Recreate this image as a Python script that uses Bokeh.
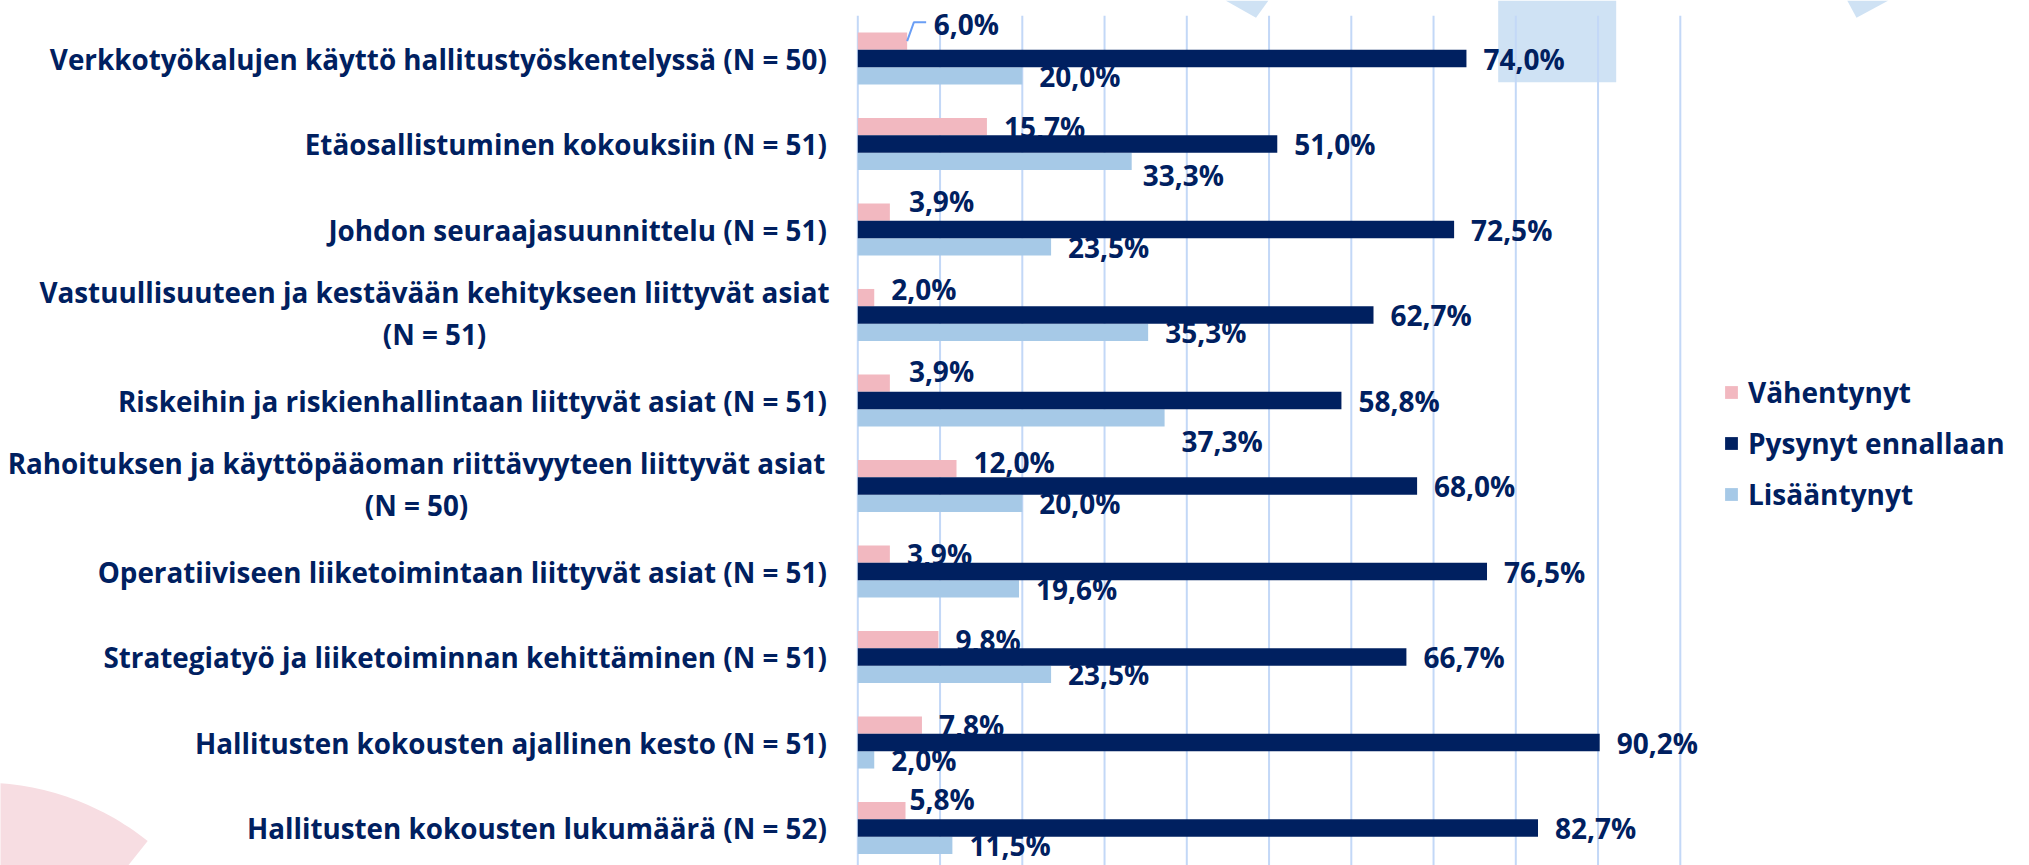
import numpy as np
from bokeh.plotting import figure
from bokeh.models import (Range1d, ColumnDataSource, Legend, LegendItem, PolyAnnotation)
from bokeh.transform import dodge
from bokeh.core.properties import value
from bokeh.embed import file_html
from bokeh.resources import INLINE

# ---------------- data ----------------
categories = [
    "Verkkotyökalujen käyttö hallitustyöskentelyssä (N = 50)",
    "Etäosallistuminen kokouksiin (N = 51)",
    "Johdon seuraajasuunnittelu (N = 51)",
    "Vastuullisuuteen ja kestävään kehitykseen liittyvät asiat\n(N = 51)",
    "Riskeihin ja riskienhallintaan liittyvät asiat (N = 51)",
    "Rahoituksen ja käyttöpääoman riittävyyteen liittyvät asiat\n(N = 50)",
    "Operatiiviseen liiketoimintaan liittyvät asiat (N = 51)",
    "Strategiatyö ja liiketoiminnan kehittäminen (N = 51)",
    "Hallitusten kokousten ajallinen kesto (N = 51)",
    "Hallitusten kokousten lukumäärä (N = 52)",
]
vahentynyt = [6.0, 15.7, 3.9, 2.0, 3.9, 12.0, 3.9, 9.8, 7.8, 5.8]
pysynyt = [74.0, 51.0, 72.5, 62.7, 58.8, 68.0, 76.5, 66.7, 90.2, 82.7]
lisaantynyt = [20.0, 33.3, 23.5, 35.3, 37.3, 20.0, 19.6, 23.5, 2.0, 11.5]
series_names = ["Vähentynyt", "Pysynyt ennallaan", "Lisääntynyt"]
x_ticks = list(range(0, 101, 10))

# ---------------- style ----------------
PINK = "#F2B8C0"
NAVY = "#002060"
LIGHT = "#A6C9E7"
GRID = "#C3D8F7"
TEXT = "#002060"
FONT = "Open Sans"
FS = "28px"
CAT_FS = "27.8px"
BAR = 0.203

# data-label nudges in pixels: (series index, row) -> (dx, dy)
nudges = {
    (0, 0): (9.5, -17), (2, 1): (-6, 14), (0, 2): (2, -11.5), (0, 3): (0, -9),
    (0, 4): (2, -11.7), (2, 4): (0, 23.5), (0, 5): (0, -7), (0, 9): (-13, -12),
}
LABEL_GAP = 17
CAT_GAP = 31
# centre (canvas px) of the wrapped, centred category labels
wrapped_center_px = {3: 434, 5: 416}

W, H = 2029, 865
ZERO_PX = 857.3      # canvas x of 0 %
PX_PER_PCT = 8.225   # pixels per percentage point
ROW0_PX = 58.0       # canvas y of first category centre
PX_PER_ROW = 85.5
GRID_TOP = -0.5      # grid starts half a row above the first category

x_start = -ZERO_PX / PX_PER_PCT
x_end = (W - ZERO_PX) / PX_PER_PCT
y_top = -ROW0_PX / PX_PER_ROW
y_bottom = (H - ROW0_PX) / PX_PER_ROW

p = figure(width=W, height=H, output_backend="svg", toolbar_location=None,
           x_range=Range1d(x_start, x_end), y_range=Range1d(y_bottom, y_top),
           x_axis_location=None, y_axis_location=None,
           min_border_left=0, min_border_right=0, min_border_top=0, min_border_bottom=0)
p.outline_line_color = None
p.background_fill_color = "white"
p.border_fill_color = "white"
p.xgrid.visible = False
p.ygrid.visible = False

# background decorations (canvas pixels)
DECO_BLUE = "#CFE2F4"
for xs, ys in [([1497.7, 1615.7, 1615.7, 1497.7], [0, 0, 81.7, 81.7]),
               ([1225, 1268, 1255.5], [0, 0, 17.3]),
               ([1846.7, 1888, 1856], [0, 0, 17.3])]:
    p.add_layout(PolyAnnotation(xs=xs, ys=ys, xs_units="canvas", ys_units="canvas",
                                fill_color=DECO_BLUE, fill_alpha=1, line_color=None,
                                level="image"))
ang = np.radians(np.linspace(-100, -51.4, 40))
wx = [-20.0] + [float(v) for v in (-20 + 268 * np.cos(ang))]
wy = [1050.0] + [float(v) for v in (1050 + 268 * np.sin(ang))]
p.add_layout(PolyAnnotation(xs=wx, ys=wy, xs_units="canvas", ys_units="canvas",
                            fill_color="#F7DDE2", fill_alpha=1, line_color=None, level="image"))

# vertical gridlines (0 % line doubles as the axis line)
p.segment(x0=x_ticks, x1=x_ticks, y0=[GRID_TOP] * len(x_ticks), y1=[y_bottom] * len(x_ticks),
          line_color=GRID, line_width=2, level="underlay")

# category labels
rows = list(range(len(categories)))
single = [r for r in rows if "\n" not in categories[r]]
wrapped = [r for r in rows if "\n" in categories[r]]
cat_common = dict(text_baseline="middle", text_font=value(FONT), text_font_style="bold",
                  text_font_size=CAT_FS, text_color=TEXT, text_line_height=1.1)
p.text(x=[0] * len(single), y=single, text=[categories[r] for r in single],
       x_offset=-CAT_GAP, text_align="right", **cat_common)
p.text(x=[0] * len(wrapped), y=wrapped, text=[categories[r] for r in wrapped],
       x_offset=[wrapped_center_px[r] - ZERO_PX for r in wrapped], y_offset=-2,
       text_align="center", **cat_common)


def fmt(v):
    return f"{v:.1f}".replace(".", ",") + "%"


series = [vahentynyt, pysynyt, lisaantynyt]
sources = []
for si, vals in enumerate(series):
    dx = [LABEL_GAP + nudges.get((si, r), (0, 0))[0] for r in rows]
    dy = [nudges.get((si, r), (0, 0))[1] for r in rows]
    sources.append(ColumnDataSource(dict(y=rows, v=vals, t=[fmt(v) for v in vals], dx=dx, dy=dy)))

offsets = [-BAR, 0.0, BAR]
colors = [PINK, NAVY, LIGHT]


def bars(si):
    return p.hbar(y=dodge("y", offsets[si], range=p.y_range), left=0, right="v", height=BAR,
                  source=sources[si], fill_color=colors[si], line_color=None)


def labels(si):
    p.text(x="v", y=dodge("y", offsets[si], range=p.y_range), text="t", source=sources[si],
           x_offset="dx", y_offset="dy", text_align="left", text_baseline="middle",
           text_font=value(FONT), text_font_style="bold", text_font_size=FS, text_color=TEXT)


r_pink = bars(0)
r_light = bars(2)
labels(0)
labels(2)

# leader line for the first "Vähentynyt" label
v0 = vahentynyt[0]
y0 = 0 - BAR
p.line(x=[v0, v0 + 6.7 / PX_PER_PCT, v0 + 19 / PX_PER_PCT],
       y=[y0, y0 - 18.8 / PX_PER_ROW, y0 - 18.8 / PX_PER_ROW],
       line_color="#6A9EF5", line_width=2)

r_navy = bars(1)
labels(1)

legend = Legend(items=[LegendItem(label=n, renderers=[r]) for n, r in
                       zip(series_names, [r_pink, r_navy, r_light])],
                location=(1723, 351), orientation="vertical",
                glyph_width=16, glyph_height=16, label_standoff=9, spacing=11,
                label_height=40, padding=0, margin=0,
                border_line_alpha=0, background_fill_alpha=0,
                label_text_font=FONT, label_text_font_style="bold",
                label_text_font_size=FS, label_text_color=TEXT)
p.add_layout(legend)

open("out.html", "w").write(file_html(p, INLINE))
